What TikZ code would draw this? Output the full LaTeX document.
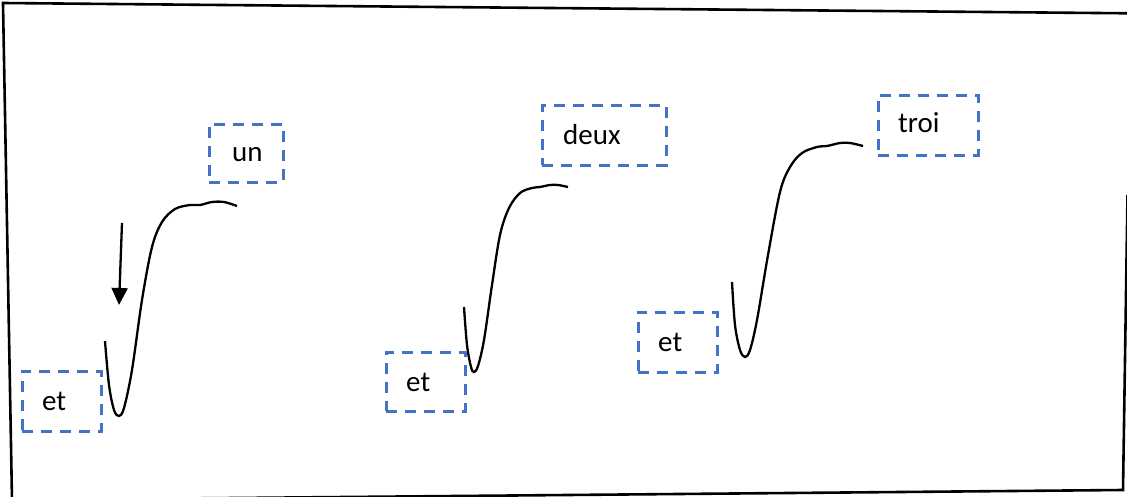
\documentclass[tikz,border=0pt]{standalone}
\usepackage{fontspec}
\setmainfont{Carlito}
\usetikzlibrary{arrows.meta}
\definecolor{boxblue}{HTML}{4472C4}
\tikzset{
  labelbox/.style={draw=boxblue, line width=2.6pt, dash pattern=on 11pt off 8pt,
    anchor=north west, inner sep=0pt, minimum height=60pt},
  labeltext/.style={anchor=base west, inner sep=0pt,
    font=\fontsize{29}{34}\selectfont},
  wellcurve/.style={line width=2.3pt, smooth, tension=0.55},
  frameline/.style={line width=2.6pt, line join=miter},
  droparrow/.style={line width=2.3pt, -{Triangle[length=17pt,width=16pt]}}
}
\begin{document}
\begin{tikzpicture}[x=1pt,y=-1pt]
\useasboundingbox (0,0) rectangle (1127,497);
\fill[white] (0,0) rectangle (1127,497);

% outer frame, slightly skewed; its right and bottom sides run off the page
\begin{scope}
  \clip (0,0) rectangle (1127,497);
  \draw[frameline] (1140,13.4) -- (3,3) -- (12,500) -- (1123,490) -- (1127.5,195);
\end{scope}

% first well
\draw[wellcurve] plot coordinates {(105,341) (109,385) (114,410) (119,416) (124,408)
  (132,370) (142,300) (152,247) (162,222) (175,209) (190,205) (200,205) (212,202)
  (224,202) (237,206)};
\coordinate (arrtop) at (122,223);
\coordinate (arrtip) at (119,305);
\draw[droparrow] (arrtop) -- (arrtip);

% second well
\draw[wellcurve] plot coordinates {(464,307) (467,345) (471,367) (474,372) (478,366)
  (484,340) (492,285) (500,235) (509,208) (520,193) (532,188) (540,187) (550,185)
  (558,185) (568,187)};

% third well
\draw[wellcurve] plot coordinates {(732,282) (735,325) (740,350) (745,357) (750,350)
  (757,320) (768,255) (780,192) (790,167) (802,153) (817,147) (827,146) (840,143)
  (850,143) (863,146)};

% labelled boxes
\node[labelbox, minimum width=74pt, minimum height=58pt] (un) at (208,123) {};
\node[labeltext] (untext) at ([shift={(24,39)}]un.north west) {un};

\node[labelbox, minimum width=79pt] (etA) at (21,370) {};
\node[labeltext] (etAtext) at ([shift={(21,40)}]etA.north west) {et};

\node[labelbox, minimum width=124pt] (deux) at (541,104) {};
\node[labeltext] (deuxtext) at ([shift={(22,41)}]deux.north west) {deux};

\node[labelbox, minimum width=79pt, minimum height=59pt] (etB) at (385,351) {};
\node[labeltext] (etBtext) at ([shift={(21,40)}]etB.north west) {et};

\node[labelbox, minimum width=100pt] (troi) at (877,94) {};
\node[labeltext] (troitext) at ([shift={(21,39)}]troi.north west) {troi};

\node[labelbox, minimum width=79pt] (etC) at (637,311) {};
\node[labeltext] (etCtext) at ([shift={(21,40)}]etC.north west) {et};
\end{tikzpicture}
\end{document}
